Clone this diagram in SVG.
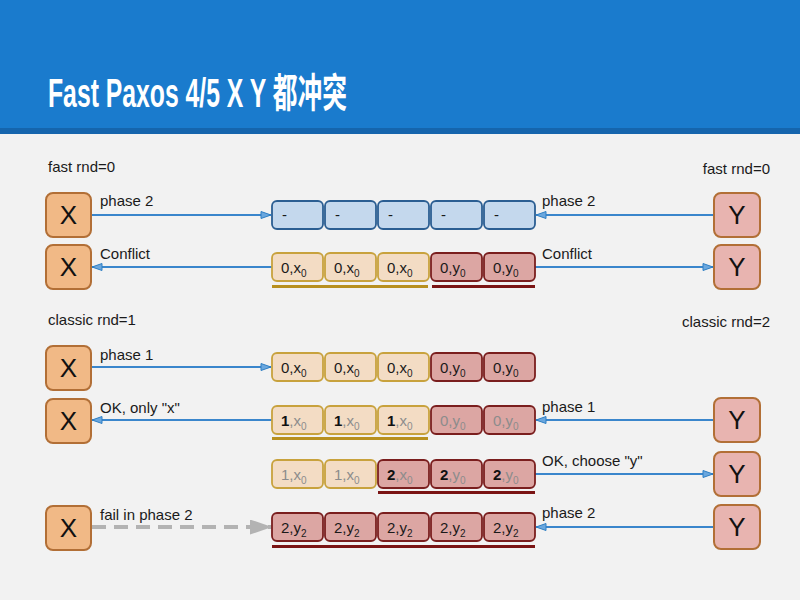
<svg xmlns="http://www.w3.org/2000/svg" width="800" height="600" viewBox="0 0 800 600">
<defs>
<style>
.lbl{font-family:"Liberation Sans","Noto Sans CJK SC",sans-serif;font-size:15px;fill:#1a1a1a}
.node rect{stroke:#b26f36;stroke-width:2}
.nx rect{fill:#f1b986}
.ny rect{fill:#e8b4b0}
.node text{font-family:"Liberation Sans",sans-serif;font-size:26px;fill:#111;text-anchor:middle}
.cb{fill:#c4d8ed;stroke:#2b5e92;stroke-width:1.8}
.cy{fill:#f3dcc4;stroke:#c8a23d;stroke-width:1.8}
.cr{fill:#dca6a3;stroke:#7a1e1e;stroke-width:1.8}
.ct{font-family:"Liberation Sans",sans-serif;font-size:15px;fill:#1a1a1a}
.g{fill:#8c8c8c}
.b{font-weight:bold;fill:#111}
.sub{font-size:10px}
.ul-y{fill:#b8901f}
.ul-r{fill:#7a1414}
.conn line{stroke:#3a86cc;stroke-width:2}
</style>
<marker id="ah" markerUnits="userSpaceOnUse" markerWidth="12" markerHeight="10" refX="11" refY="4.5" orient="auto">
<path d="M1,1 L11,4.5 L1,8 Z" fill="#6aa7de" stroke="#2f7fc4" stroke-width="1"/>
</marker>
<marker id="ahg" markerUnits="userSpaceOnUse" markerWidth="24" markerHeight="16" refX="22" refY="7.5" orient="auto">
<path d="M0,0 L22,7.5 L0,15 Z" fill="#b3b3b3"/>
</marker>
</defs>
<rect width="800" height="600" fill="#f2f2f2"/>
<g id="header">
<rect x="0" y="0" width="800" height="130" fill="#1a7bcd"/>
<rect x="0" y="128" width="800" height="6" fill="#1565ad"/>
<text x="48" y="107" font-family="Liberation Sans,Noto Sans CJK SC,sans-serif" font-weight="bold" font-size="40" fill="#ffffff" textLength="299" lengthAdjust="spacingAndGlyphs">Fast Paxos 4/5 X Y 都冲突</text>
</g>
<g id="labels">
<text class="lbl" x="48" y="172">fast rnd=0</text>
<text class="lbl" x="770" y="174" text-anchor="end">fast rnd=0</text>
<text class="lbl" x="48" y="325">classic rnd=1</text>
<text class="lbl" x="770" y="327" text-anchor="end">classic rnd=2</text>
<text class="lbl" x="100" y="206">phase 2</text>
<text class="lbl" x="542" y="206">phase 2</text>
<text class="lbl" x="100" y="259">Conflict</text>
<text class="lbl" x="542" y="259">Conflict</text>
<text class="lbl" x="100" y="360">phase 1</text>
<text class="lbl" x="100" y="413">OK, only "x"</text>
<text class="lbl" x="542" y="412">phase 1</text>
<text class="lbl" x="542" y="466">OK, choose "y"</text>
<text class="lbl" x="100" y="520">fail in phase 2</text>
<text class="lbl" x="542" y="518">phase 2</text>
</g>
<g id="connectors" class="conn">
<line x1="91" y1="215" x2="271" y2="215" marker-end="url(#ah)"/>
<line x1="714" y1="215" x2="536" y2="215" marker-end="url(#ah)"/>
<line x1="272" y1="267" x2="92" y2="267" marker-end="url(#ah)"/>
<line x1="535" y1="267" x2="713" y2="267" marker-end="url(#ah)"/>
<line x1="91" y1="367" x2="271" y2="367" marker-end="url(#ah)"/>
<line x1="272" y1="420" x2="92" y2="420" marker-end="url(#ah)"/>
<line x1="714" y1="420" x2="536" y2="420" marker-end="url(#ah)"/>
<line x1="535" y1="474" x2="713" y2="474" marker-end="url(#ah)"/>
<line x1="714" y1="527" x2="536" y2="527" marker-end="url(#ah)"/>
<line x1="92" y1="527" x2="272" y2="527" style="stroke:#b3b3b3;stroke-width:4;stroke-dasharray:14 8" marker-end="url(#ahg)"/>
</g>
<g id="node-x1" class="node nx"><rect x="46" y="193" width="45" height="44" rx="7"/><text x="68.5" y="224">X</text></g>
<g id="node-x2" class="node nx"><rect x="46" y="245" width="45" height="44" rx="7"/><text x="68.5" y="276">X</text></g>
<g id="node-x3" class="node nx"><rect x="46" y="346" width="45" height="44" rx="7"/><text x="68.5" y="377">X</text></g>
<g id="node-x4" class="node nx"><rect x="46" y="399" width="45" height="44" rx="7"/><text x="68.5" y="430">X</text></g>
<g id="node-x5" class="node nx"><rect x="46" y="506" width="45" height="44" rx="7"/><text x="68.5" y="537">X</text></g>
<g id="node-y1" class="node ny"><rect x="714" y="193" width="46" height="44" rx="7"/><text x="737" y="224">Y</text></g>
<g id="node-y2" class="node ny"><rect x="714" y="245" width="46" height="44" rx="7"/><text x="737" y="276">Y</text></g>
<g id="node-y3" class="node ny"><rect x="714" y="398" width="46" height="44" rx="7"/><text x="737" y="429">Y</text></g>
<g id="node-y4" class="node ny"><rect x="714" y="452" width="46" height="44" rx="7"/><text x="737" y="483">Y</text></g>
<g id="node-y5" class="node ny"><rect x="714" y="505" width="46" height="44" rx="7"/><text x="737" y="536">Y</text></g>
<g id="row1">
<rect class="cb" x="272" y="201" width="51" height="28" rx="5"/>
<rect class="cb" x="325" y="201" width="51" height="28" rx="5"/>
<rect class="cb" x="378" y="201" width="51" height="28" rx="5"/>
<rect class="cb" x="431" y="201" width="51" height="28" rx="5"/>
<rect class="cb" x="484" y="201" width="51" height="28" rx="5"/>
<text class="ct" x="282" y="220">-</text>
<text class="ct" x="335" y="220">-</text>
<text class="ct" x="388" y="220">-</text>
<text class="ct" x="441" y="220">-</text>
<text class="ct" x="494" y="220">-</text>
</g>
<g id="row2">
<rect class="cy" x="272" y="253" width="51" height="28" rx="5"/>
<rect class="cy" x="325" y="253" width="51" height="28" rx="5"/>
<rect class="cy" x="378" y="253" width="51" height="28" rx="5"/>
<rect class="cr" x="431" y="253" width="51" height="28" rx="5"/>
<rect class="cr" x="484" y="253" width="51" height="28" rx="5"/>
<text class="ct" x="281" y="273">0,x<tspan class="sub" dy="4">0</tspan></text>
<text class="ct" x="334" y="273">0,x<tspan class="sub" dy="4">0</tspan></text>
<text class="ct" x="387" y="273">0,x<tspan class="sub" dy="4">0</tspan></text>
<text class="ct" x="440" y="273">0,y<tspan class="sub" dy="4">0</tspan></text>
<text class="ct" x="493" y="273">0,y<tspan class="sub" dy="4">0</tspan></text>
<rect class="ul-y" x="272" y="285" width="156" height="3"/>
<rect class="ul-r" x="432" y="285" width="103" height="3"/>
</g>
<g id="row3">
<rect class="cy" x="272" y="353" width="51" height="28" rx="5"/>
<rect class="cy" x="325" y="353" width="51" height="28" rx="5"/>
<rect class="cy" x="378" y="353" width="51" height="28" rx="5"/>
<rect class="cr" x="431" y="353" width="51" height="28" rx="5"/>
<rect class="cr" x="484" y="353" width="51" height="28" rx="5"/>
<text class="ct" x="281" y="373">0,x<tspan class="sub" dy="4">0</tspan></text>
<text class="ct" x="334" y="373">0,x<tspan class="sub" dy="4">0</tspan></text>
<text class="ct" x="387" y="373">0,x<tspan class="sub" dy="4">0</tspan></text>
<text class="ct" x="440" y="373">0,y<tspan class="sub" dy="4">0</tspan></text>
<text class="ct" x="493" y="373">0,y<tspan class="sub" dy="4">0</tspan></text>
</g>
<g id="row4">
<rect class="cy" x="272" y="406" width="51" height="28" rx="5"/>
<rect class="cy" x="325" y="406" width="51" height="28" rx="5"/>
<rect class="cy" x="378" y="406" width="51" height="28" rx="5"/>
<rect class="cr" x="431" y="406" width="51" height="28" rx="5"/>
<rect class="cr" x="484" y="406" width="51" height="28" rx="5"/>
<text class="ct g" x="281" y="426"><tspan class="b">1</tspan>,x<tspan class="sub" dy="4">0</tspan></text>
<text class="ct g" x="334" y="426"><tspan class="b">1</tspan>,x<tspan class="sub" dy="4">0</tspan></text>
<text class="ct g" x="387" y="426"><tspan class="b">1</tspan>,x<tspan class="sub" dy="4">0</tspan></text>
<text class="ct g" x="440" y="426">0,y<tspan class="sub" dy="4">0</tspan></text>
<text class="ct g" x="493" y="426">0,y<tspan class="sub" dy="4">0</tspan></text>
<rect class="ul-y" x="272" y="437" width="156" height="3"/>
</g>
<g id="row5">
<rect class="cy" x="272" y="460" width="51" height="28" rx="5"/>
<rect class="cy" x="325" y="460" width="51" height="28" rx="5"/>
<rect class="cr" x="378" y="460" width="51" height="28" rx="5"/>
<rect class="cr" x="431" y="460" width="51" height="28" rx="5"/>
<rect class="cr" x="484" y="460" width="51" height="28" rx="5"/>
<text class="ct g" x="281" y="480">1,x<tspan class="sub" dy="4">0</tspan></text>
<text class="ct g" x="334" y="480">1,x<tspan class="sub" dy="4">0</tspan></text>
<text class="ct g" x="387" y="480"><tspan class="b">2</tspan>,x<tspan class="sub" dy="4">0</tspan></text>
<text class="ct g" x="440" y="480"><tspan class="b">2</tspan>,y<tspan class="sub" dy="4">0</tspan></text>
<text class="ct g" x="493" y="480"><tspan class="b">2</tspan>,y<tspan class="sub" dy="4">0</tspan></text>
<rect class="ul-r" x="378" y="491" width="157" height="3"/>
</g>
<g id="row6">
<rect class="cr" x="272" y="513" width="51" height="28" rx="5"/>
<rect class="cr" x="325" y="513" width="51" height="28" rx="5"/>
<rect class="cr" x="378" y="513" width="51" height="28" rx="5"/>
<rect class="cr" x="431" y="513" width="51" height="28" rx="5"/>
<rect class="cr" x="484" y="513" width="51" height="28" rx="5"/>
<text class="ct" x="281" y="533">2,y<tspan class="sub" dy="4">2</tspan></text>
<text class="ct" x="334" y="533">2,y<tspan class="sub" dy="4">2</tspan></text>
<text class="ct" x="387" y="533">2,y<tspan class="sub" dy="4">2</tspan></text>
<text class="ct" x="440" y="533">2,y<tspan class="sub" dy="4">2</tspan></text>
<text class="ct" x="493" y="533">2,y<tspan class="sub" dy="4">2</tspan></text>
<rect class="ul-r" x="272" y="545" width="263" height="3"/>
</g>
</svg>
